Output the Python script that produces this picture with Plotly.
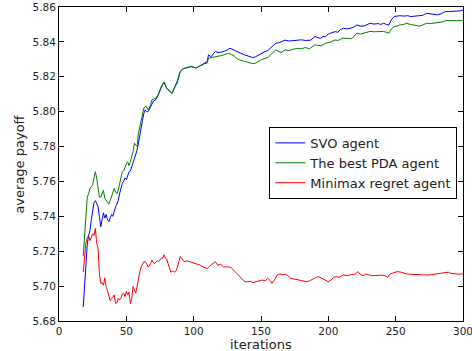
import plotly.graph_objects as go

svo_x = [18,19,20,21,22,23,24,25,26,27,28,29,30,31,32,33,34,35,36,37,38,39,40,41,42,43,44,45,46,47,48,49,50,51,52,53,54,55,56,57,58,59,60,61,62,63,64,65,66,67,68,69,70,72,74,76,78,80,82,84,86,88,90,92,94,96,98,100,102,104,106,108,110,111,113,116,118,120,122,124,127,129,131,133,135,138,140,142,144,146,148,150,153,155,157,159,161,163,165,168,171,174,177,180,183,187,190,192,194,196,198,200,202,205,207,209,211,214,217,219,221,224,227,229,231,234,237,239,241,243,245,247,249,251,253,256,259,261,264,267,270,273,276,279,281,284,287,290,293,296,298,300]
svo_y = [5.688,5.700,5.714,5.724,5.729,5.732,5.738,5.744,5.748,5.749,5.747,5.7455,5.740,5.734,5.738,5.742,5.739,5.741,5.738,5.737,5.739,5.741,5.740,5.743,5.7455,5.747,5.749,5.753,5.757,5.759,5.760,5.762,5.761,5.764,5.7656,5.766,5.7685,5.770,5.773,5.775,5.778,5.782,5.787,5.791,5.795,5.799,5.801,5.800,5.800,5.801,5.803,5.805,5.806,5.807,5.810,5.814,5.817,5.8134,5.812,5.8105,5.814,5.817,5.823,5.8245,5.825,5.8255,5.826,5.8255,5.825,5.826,5.827,5.8278,5.8287,5.8325,5.8315,5.8345,5.834,5.834,5.8345,5.835,5.8363,5.8355,5.835,5.834,5.8335,5.8325,5.832,5.8315,5.831,5.8315,5.8325,5.8335,5.8345,5.835,5.8363,5.838,5.8392,5.8395,5.8402,5.841,5.8405,5.8408,5.841,5.8412,5.8408,5.841,5.8431,5.8425,5.842,5.843,5.8431,5.8445,5.845,5.8459,5.8455,5.847,5.8478,5.8475,5.848,5.8485,5.8497,5.849,5.8492,5.850,5.8507,5.8502,5.8505,5.850,5.8507,5.850,5.8497,5.853,5.8545,5.8548,5.855,5.8548,5.855,5.8545,5.8548,5.855,5.8552,5.8564,5.856,5.8558,5.8555,5.8562,5.8574,5.8574,5.8575,5.8574,5.8578,5.8583]

pda_x = [18,19,20,21,22,23,24,25,26,27,28,29,30,31,32,33,34,35,36,37,38,39,40,41,42,43,44,45,46,47,48,49,50,51,52,53,54,55,56,57,58,59,60,61,62,63,64,65,66,67,68,69,70,72,74,76,78,80,82,84,86,88,90,92,94,96,98,100,102,104,106,108,110,111,113,115,118,120,122,124,126,128,130,132,134,137,140,142,144,146,148,150,153,155,157,159,161,163,165,168,171,174,177,180,183,186,188,190,192,195,198,200,202,205,207,209,211,214,217,219,221,224,227,229,231,234,237,239,241,243,245,247,249,251,253,256,258,261,264,266,268,271,273,276,279,282,285,287,290,295,300]
pda_y = [5.7173,5.728,5.740,5.751,5.753,5.756,5.757,5.758,5.762,5.7656,5.762,5.757,5.751,5.751,5.753,5.755,5.7503,5.749,5.748,5.747,5.749,5.751,5.754,5.756,5.754,5.753,5.755,5.758,5.761,5.7656,5.766,5.7685,5.770,5.7713,5.769,5.7713,5.774,5.777,5.7819,5.781,5.780,5.7876,5.791,5.795,5.799,5.802,5.803,5.803,5.801,5.802,5.804,5.8067,5.8072,5.8077,5.8105,5.8145,5.817,5.8134,5.8118,5.8105,5.8143,5.818,5.823,5.8245,5.825,5.8255,5.8258,5.8255,5.825,5.826,5.8265,5.8275,5.8278,5.8306,5.831,5.8315,5.8318,5.832,5.8325,5.833,5.8335,5.8328,5.832,5.8305,5.8297,5.829,5.8282,5.8278,5.8275,5.8278,5.829,5.8297,5.8306,5.831,5.8325,5.834,5.8354,5.8345,5.834,5.8354,5.835,5.8358,5.8363,5.836,5.8368,5.836,5.837,5.8383,5.838,5.8378,5.8392,5.8395,5.840,5.8411,5.8408,5.8415,5.8421,5.842,5.8418,5.843,5.845,5.8445,5.845,5.8455,5.846,5.8458,5.846,5.8462,5.846,5.8455,5.845,5.8475,5.8488,5.849,5.8497,5.850,5.8507,5.850,5.8497,5.8493,5.849,5.850,5.8507,5.8505,5.8508,5.851,5.8515,5.8522,5.8522,5.8522,5.8522]

mmr_x = [18,19,20,21,22,23,24,25,26,27,28,29,30,31,32,33,34,35,36,37,38,39,40,41,42,43,44,45,46,47,48,49,50,51,52,53,54,55,56,57,58,59,60,61,62,63,64,65,66,67,68,69,70,71,72,73,74,75,76,77,78,79,80,81,82,83,84,85,86,87,88,89,90,91,92,93,95,97,100,102,105,107,110,112,114,116,118,120,122,124,126,128,130,132,134,136,138,140,142,144,147,149,151,153,155,157,158,160,162,164,166,168,170,172,175,177,180,182,184,186,189,191,193,195,197,199,200,202,204,206,208,211,214,217,220,222,224,226,228,230,232,234,237,240,242,244,246,248,251,254,256,258,261,264,266,269,272,275,278,281,284,287,289,291,293,295,297,299,300]
mmr_y = [5.708,5.718,5.725,5.7274,5.729,5.726,5.728,5.730,5.729,5.733,5.7245,5.722,5.707,5.7016,5.702,5.7005,5.7047,5.6997,5.6975,5.694,5.6916,5.693,5.6935,5.695,5.690,5.6905,5.693,5.692,5.693,5.6955,5.696,5.694,5.697,5.695,5.6965,5.690,5.693,5.6997,5.698,5.696,5.700,5.705,5.708,5.711,5.7125,5.714,5.714,5.713,5.711,5.7115,5.713,5.715,5.7135,5.713,5.714,5.7145,5.714,5.715,5.716,5.716,5.718,5.716,5.7155,5.713,5.7105,5.708,5.7085,5.7085,5.708,5.709,5.711,5.715,5.717,5.716,5.715,5.714,5.7145,5.714,5.7135,5.713,5.712,5.711,5.710,5.7115,5.713,5.714,5.712,5.7125,5.711,5.711,5.711,5.7105,5.709,5.707,5.706,5.7045,5.7025,5.7025,5.7028,5.702,5.7025,5.703,5.7035,5.703,5.7045,5.703,5.7016,5.7035,5.7064,5.707,5.7065,5.7068,5.706,5.7045,5.704,5.7035,5.703,5.7028,5.7025,5.703,5.7045,5.705,5.7054,5.7045,5.7035,5.703,5.7025,5.7035,5.705,5.7054,5.705,5.7064,5.706,5.7065,5.707,5.7083,5.7065,5.706,5.707,5.7065,5.706,5.706,5.7062,5.7063,5.706,5.705,5.707,5.7075,5.7083,5.708,5.7075,5.707,5.7068,5.7066,5.7066,5.7063,5.7064,5.7064,5.7068,5.707,5.7072,5.7076,5.708,5.7073,5.707,5.7068,5.7068,5.707,5.707]

series_names = ["SVO agent", "The best PDA agent", "Minimax regret agent"]
series_colors = ["#0000ff", "#008000", "#ff0000"]

x_ticks = [0, 50, 100, 150, 200, 250, 300]
y_ticks = [5.68, 5.70, 5.72, 5.74, 5.76, 5.78, 5.80, 5.82, 5.84, 5.86]
y_ticktext = ["%.2f" % v for v in y_ticks]

font_family = "DejaVu Sans"
text_color = "#222222"

fig = go.Figure()
for xs, ys, name, col in zip([svo_x, pda_x, mmr_x], [svo_y, pda_y, mmr_y], series_names, series_colors):
    fig.add_trace(go.Scatter(x=xs, y=ys, mode="lines", name=name,
                             line=dict(color=col, width=1)))

axis_common = dict(showline=True, linecolor="black", linewidth=1, mirror="ticks",
                   ticks="inside", ticklen=5, tickcolor="black", tickwidth=1,
                   showgrid=False, zeroline=False, automargin=False,
                   ticklabeloverflow="allow",
                   tickfont=dict(family=font_family, size=10.5, color=text_color))

fig.update_layout(
    width=472, height=351,
    margin=dict(l=59, r=9, t=7, b=30),
    paper_bgcolor="white", plot_bgcolor="white",
    font=dict(family=font_family, color=text_color),
    showlegend=True,
    legend=dict(x=0.986, y=0.618, xanchor="right", yanchor="top",
                bgcolor="white", bordercolor="black", borderwidth=1,
                font=dict(family=font_family, size=13, color=text_color),
                tracegroupgap=0, itemwidth=30),
    xaxis=dict(range=[0, 300], tickmode="array", tickvals=x_ticks, **axis_common),
    yaxis=dict(range=[5.68, 5.86], tickmode="array", tickvals=y_ticks, ticktext=y_ticktext,
               **axis_common),
    annotations=[
        dict(text="iterations", xref="paper", yref="paper", x=0.5, y=-0.045,
             xanchor="center", yanchor="top", showarrow=False,
             font=dict(family=font_family, size=13, color=text_color)),
        dict(text="average payoff", xref="paper", yref="paper", x=-0.1, y=0.5,
             xanchor="center", yanchor="middle", textangle=-90, showarrow=False,
             font=dict(family=font_family, size=13, color=text_color)),
    ],
)

fig.write_html("out.html", config={"displayModeBar": False},
               post_script="document.body.style.margin='0';document.body.style.padding='0';")
